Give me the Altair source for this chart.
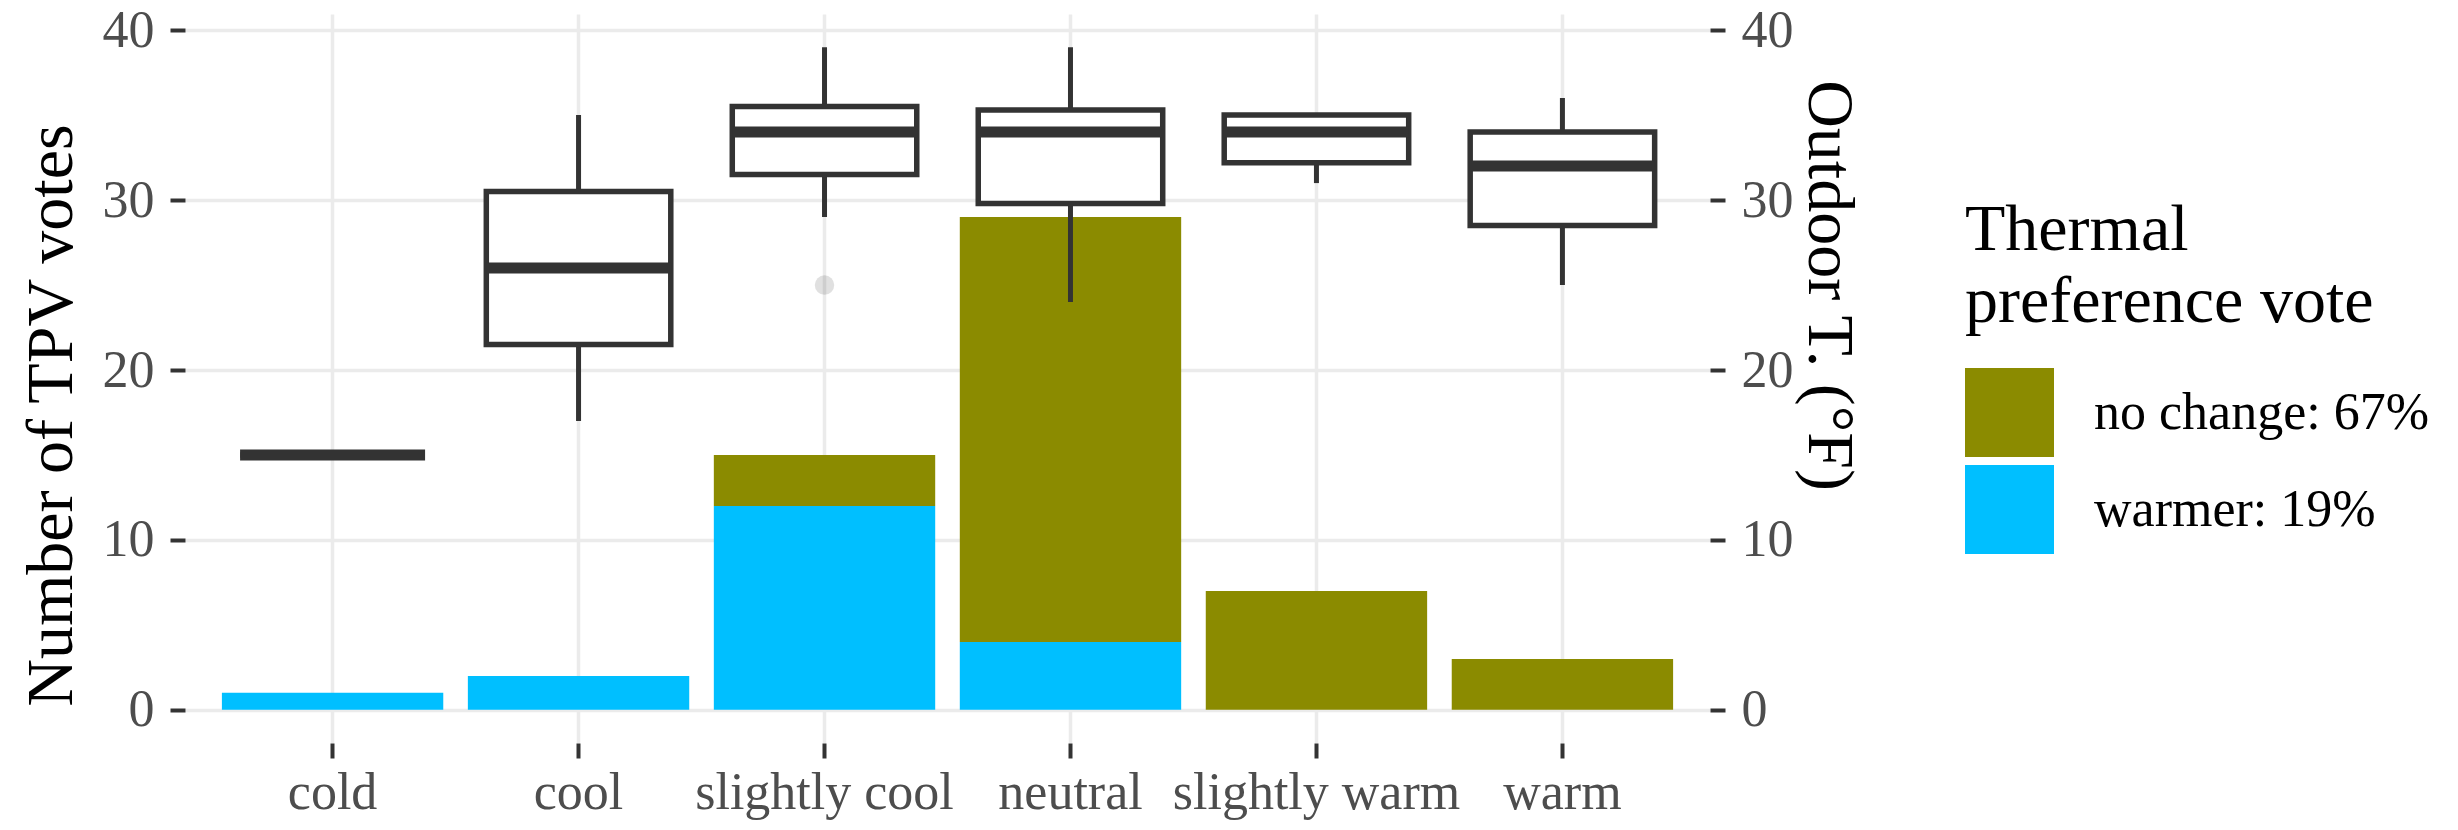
import altair as alt
import pandas as pd

# ---- data ----
categories = ["cold", "cool", "slightly cool", "neutral", "slightly warm", "warm"]
warmer_votes = [1, 2, 12, 4, 0, 0]
no_change_votes = [0, 0, 3, 25, 7, 3]
pref_labels = ["no change: 67%", "warmer: 19%"]
pref_colors = ["#8B8B00", "#00BFFF"]

temp_low = [15, 17, 29, 24, 31, 25]
temp_q1 = [15, 21.5, 31.5, 29.8, 32.2, 28.5]
temp_median = [15, 26, 34, 34, 34, 32]
temp_q3 = [15, 30.5, 35.5, 35.3, 35, 34]
temp_high = [15, 35, 39, 39, 35, 36]
outlier_categories = ["slightly cool"]
outlier_temps = [25]

y_ticks = [0, 10, 20, 30, 40]
y_domain = [-1.95, 40.95]

# ---- tables ----
rows = []
for c, w, n in zip(categories, warmer_votes, no_change_votes):
    if w > 0:
        rows.append({"category": c, "preference": pref_labels[1], "votes": w, "rank": 0})
    if n > 0:
        rows.append({"category": c, "preference": pref_labels[0], "votes": n, "rank": 1})
bars_df = pd.DataFrame(rows)

box_df = pd.DataFrame({
    "category": categories, "low": temp_low, "q1": temp_q1,
    "median": temp_median, "q3": temp_q3, "high": temp_high,
})
out_df = pd.DataFrame({"category": outlier_categories, "temp": outlier_temps})

FONT = "Liberation Serif"
DARK = "#333333"

x_enc = alt.X(
    "category:N", sort=categories, title=None,
    scale=alt.Scale(paddingInner=0, paddingOuter=0.1),
    axis=alt.Axis(labelAngle=0, labelBaseline="alphabetic", labelPadding=50,
                  grid=True, bandPosition=0.5, labelLimit=0),
)

def y_left(field):
    return alt.Y(field, stack="zero",
                 scale=alt.Scale(domain=y_domain, nice=False, zero=False),
                 axis=alt.Axis(values=y_ticks, orient="left", title="Number of TPV votes",
                               titleAngle=-90, titleBaseline="alphabetic", titleAlign="center",
                               titleX=-114, titleY=401, grid=True, labelLimit=0, titleLimit=0))

def y_right(field):
    return alt.Y(field,
                 scale=alt.Scale(domain=y_domain, nice=False, zero=False),
                 axis=alt.Axis(values=y_ticks, orient="right", title="Outdoor T. (°F)",
                               titleAngle=90, titleBaseline="alphabetic", titleAlign="center",
                               titleX=98, titleY=271, grid=False, labelLimit=0, titleLimit=0))

bars = alt.Chart(bars_df).mark_bar(width={"band": 0.9}).encode(
    x=x_enc,
    y=y_left("votes:Q"),
    color=alt.Color(
        "preference:N",
        scale=alt.Scale(domain=pref_labels, range=pref_colors),
        legend=alt.Legend(
            title=["Thermal", "preference vote"], orient="none", legendX=1780, legendY=184,
            titleFont=FONT, titleFontSize=66, titleFontWeight="normal", titleColor="black",
            titleLineHeight=72, titlePadding=32, titleLimit=0,
            labelFont=FONT, labelFontSize=52, labelColor="black", labelOffset=40, labelLimit=0,
            symbolType="square", symbolSize=7921, symbolStrokeWidth=0, symbolOpacity=1,
            rowPadding=8, padding=0,
        ),
    ),
    order=alt.Order("rank:Q", sort="ascending"),
)

whiskers = alt.Chart(box_df).mark_rule(color=DARK, strokeWidth=5).encode(
    x=x_enc, y=y_right("low:Q"), y2="high:Q",
)
boxes = alt.Chart(box_df).mark_bar(
    width={"band": 0.75}, fill="white", stroke=DARK, strokeWidth=5.5
).encode(
    x=x_enc, y=y_right("q1:Q"), y2="q3:Q",
)
medians = alt.Chart(box_df).mark_tick(color=DARK, thickness=11, size=185, opacity=1).encode(
    x=x_enc, y=y_right("median:Q"),
)
outliers = alt.Chart(out_df).mark_circle(size=380, color="black", opacity=0.12).encode(
    x=x_enc, y=y_right("temp:Q"),
)

temp_layer = alt.layer(whiskers, boxes, medians, outliers)

chart = alt.layer(bars, temp_layer).resolve_scale(y="independent").properties(
    width=1525, height=729,
    autosize=alt.AutoSizeParams(type="none"),
    padding={"left": 177, "top": 6, "right": 740, "bottom": 80},
    background="white",
).configure_view(
    strokeWidth=0,
).configure_axis(
    domain=False,
    labelFont=FONT, labelFontSize=52, labelColor="#4D4D4D",
    titleFont=FONT, titleFontSize=66, titleFontWeight="normal", titleColor="black",
    tickSize=15, tickWidth=4, tickColor=DARK, labelPadding=16,
    gridColor="#EBEBEB", gridWidth=3.5,
)

chart.save("out.html", embed_options={"renderer": "svg", "actions": False})
